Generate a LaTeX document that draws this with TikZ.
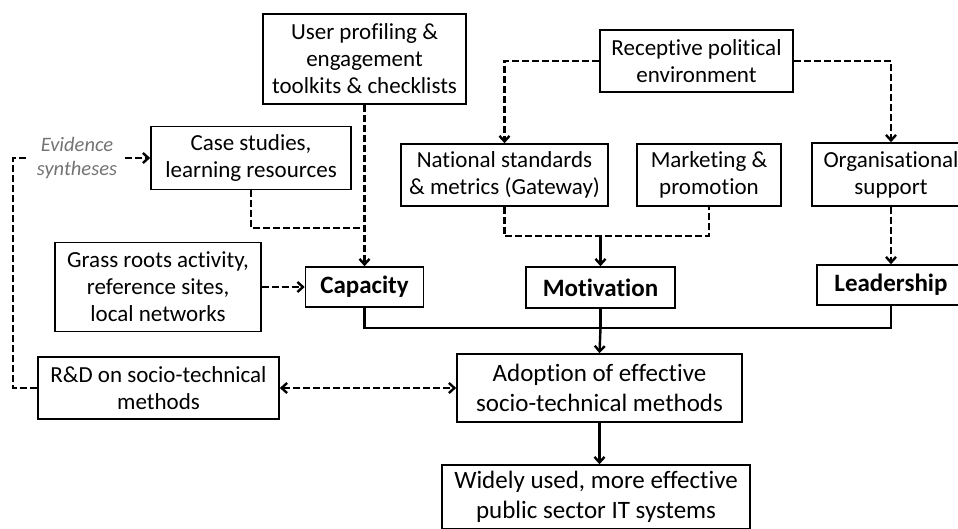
\documentclass[tikz,border=0pt]{standalone}
\usepackage{fontspec}
\setmainfont[Ligatures=NoCommon]{Carlito}
\usetikzlibrary{arrows.meta}

\begin{document}
\begin{tikzpicture}[x=1pt,y=-1pt,>={Straight Barb[length=5.5pt,width=10pt]},
    box/.style={draw,rectangle,line width=1.6pt,align=center,inner sep=0pt,font=\fontsize{23}{27}\selectfont},
    big box/.style={box,font=\fontsize{25}{30}\selectfont},
    key node/.style={draw,rectangle,line width=1.6pt,inner sep=0pt,font=\fontsize{25}{29}\selectfont\bfseries},
    dline/.style={dash pattern=on 7pt off 3pt,line width=2.4pt},
    sline/.style={line width=2.4pt}]
            \useasboundingbox (0,0) rectangle (958,529);

            \node[box, minimum width=203, minimum height=90] (user) at (364.5,59) {User profiling \&\\engagement\\toolkits \& checklists};
            \node[box, minimum width=193, minimum height=62] (recep) at (696.5,61) {Receptive political\\environment};
            \node[box, minimum width=200, minimum height=63] (case) at (251,158) {Case studies,\\learning resources};
            \node[align=center, inner sep=0pt, text=black!55, font=\fontsize{20.5}{24}\selectfont\itshape] (evid) at (77,158) {Evidence\\syntheses};
            \node[box, minimum width=207, minimum height=62] (natl) at (504.5,175) {National standards\\\& metrics (Gateway)};
            \node[box, minimum width=144, minimum height=62] (mkt) at (709,175) {Marketing \&\\promotion};
            \node[box, minimum width=158, minimum height=63] (org) at (891,174.5) {Organisational\\support};
            \node[box, minimum width=206, minimum height=89] (grass) at (158,287) {Grass roots activity,\\reference sites,\\local networks};
            \node[key node, minimum width=118, minimum height=40] (cap) at (364.5,287) {Capacity};
            \node[key node, minimum width=149, minimum height=41] (mot) at (600.5,287.5) {Motivation};
            \node[key node, minimum width=148, minimum height=40] (lead) at (891,285) {Leadership};
            \node[big box, minimum width=285, minimum height=68] (adopt) at (599.5,388) {Adoption of effective\\socio-technical methods};
            \node[box, minimum width=241, minimum height=62] (rd) at (158.5,388) {R\&D on socio-technical\\methods};
            \node[big box, minimum width=308, minimum height=64] (wide) at (596,497) {Widely used, more effective\\public sector IT systems};

            \coordinate (casejoin) at (364.5,228);
            \coordinate (loop) at (13,158);
            \coordinate (loopend) at (28,158);
            \coordinate (mjoin) at (600.5,236);
            \coordinate (ajoin) at (600.5,328);

            \draw[dline,->] (user) -- (cap);
            \draw[dline] (case.south) |- (casejoin);
            \draw[dline,->] (evid.east) ++(8,0) -- (case.west);
            \draw[dline] (rd.west) -| (loop) -- (loopend);
            \draw[dline,->] (grass) -- (cap);
            \draw[dline,->] (recep.west) -| (natl.north);
            \draw[dline,->] (recep.east) -| (org.north);
            \draw[dline] (natl.south) |- (mjoin) -| (mkt.south);
            \draw[sline,->] (mjoin) -- (mot.north);
            \draw[dline,->] (org) -- (lead);
            \draw[sline] (cap.south) |- (ajoin);
            \draw[sline] (lead.south) |- (ajoin);
            \draw[sline] (mot.south) -- (ajoin);
            \draw[sline,->] (ajoin) -- (adopt.north);
            \draw[dline,<->] (rd) -- (adopt);
            \draw[sline,->] (adopt.south) -- (adopt.south |- wide.north);
        \end{tikzpicture}
\end{document}
